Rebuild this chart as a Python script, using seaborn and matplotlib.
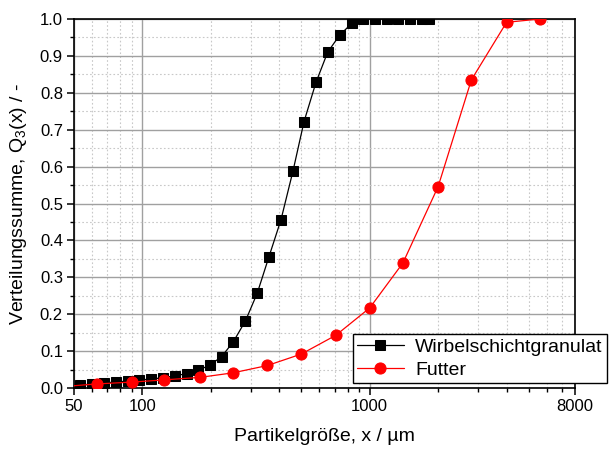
import matplotlib
matplotlib.use("Agg")
import matplotlib.pyplot as plt
import seaborn as sns
import numpy as np
import pandas as pd
from matplotlib.ticker import FixedLocator, FixedFormatter, NullFormatter

# ---- data ----
wsg_x = [53.2, 60.2, 67.8, 76.3, 86.2, 96.9, 109, 123, 139, 156.6, 176, 198, 223,
         251, 284, 320, 360, 407, 460, 514, 580, 653, 737, 833, 937, 1055, 1189,
         1337, 1504, 1693, 1824]
wsg_q3 = [0.008, 0.011, 0.014, 0.016, 0.019, 0.022, 0.024, 0.028, 0.033, 0.039,
          0.048, 0.062, 0.085, 0.125, 0.182, 0.257, 0.355, 0.456, 0.589, 0.722,
          0.828, 0.910, 0.956, 0.988, 1.0, 1.0, 1.0, 1.0, 1.0, 1.0, 1.0]
futter_x = [45, 63, 90, 125, 180, 250, 355, 500, 710, 1000, 1400, 2000, 2800, 4000, 5600]
futter_q3 = [0.004, 0.011, 0.016, 0.022, 0.029, 0.041, 0.061, 0.092, 0.143, 0.217,
             0.339, 0.546, 0.835, 0.991, 1.0]

x_major = [50, 100, 1000, 8000]
x_major_labels = ["50", "100", "1000", "8000"]
x_minor = [60, 70, 80, 90, 200, 300, 400, 500, 600, 700, 800, 900,
           2000, 3000, 4000, 5000, 6000, 7000]
y_major = [round(0.1 * i, 1) for i in range(11)]
y_minor = [round(0.05 + 0.1 * i, 2) for i in range(10)]

sns.set_theme(style="white")
plt.rcParams["font.family"] = ["Liberation Sans", "DejaVu Sans"]
plt.rcParams["mathtext.fontset"] = "custom"
plt.rcParams["mathtext.rm"] = "Liberation Sans"
plt.rcParams["mathtext.it"] = "Liberation Sans:italic"
plt.rcParams["text.color"] = "black"
plt.rcParams["axes.labelcolor"] = "black"
plt.rcParams["xtick.color"] = "black"
plt.rcParams["ytick.color"] = "black"

fig = plt.figure(figsize=(6.09, 4.5), dpi=100)
ax = fig.add_axes([74 / 609, 1 - 388 / 450, (575 - 74) / 609, (388 - 19) / 450])

sns.lineplot(x=wsg_x, y=wsg_q3, ax=ax, color="black", marker="s", markersize=6.8,
             markeredgecolor="black", linewidth=0.9, label="Wirbelschichtgranulat",
             zorder=3)
sns.lineplot(x=futter_x, y=futter_q3, ax=ax, color="#ff0000", marker="o", markersize=8,
             markeredgecolor="#ff0000", linewidth=0.9, label="Futter", zorder=4)

ax.set_xscale("log")
ax.set_xlim(50, 8000)
ax.set_ylim(0, 1.0)

ax.xaxis.set_major_locator(FixedLocator(x_major))
ax.xaxis.set_major_formatter(FixedFormatter(x_major_labels))
ax.xaxis.set_minor_locator(FixedLocator(x_minor))
ax.xaxis.set_minor_formatter(NullFormatter())
ax.yaxis.set_major_locator(FixedLocator(y_major))
ax.yaxis.set_minor_locator(FixedLocator(y_minor))
ax.yaxis.set_major_formatter(FixedFormatter([f"{v:.1f}" for v in y_major]))

ax.grid(which="major", color="#a0a0a0", linewidth=1.0, linestyle="-")
ax.grid(which="minor", color="#c8c8c8", linewidth=0.8, linestyle=(0, (1.5, 2)))
ax.set_axisbelow(True)

ax.tick_params(which="major", direction="out", length=5, width=1.1, color="black",
               labelsize=12, labelcolor="black", bottom=True, left=True, top=False,
               right=False, pad=3)
ax.tick_params(which="minor", direction="out", length=3, width=1.0, color="black",
               bottom=True, left=True, top=False, right=False)
for s in ax.spines.values():
    s.set_visible(True)
    s.set_color("black")
    s.set_linewidth(1.2)

ax.set_xlabel("Partikelgröße, x / µm", fontsize=14, labelpad=10, color="black")
ax.set_ylabel("Verteilungssumme, Q$_3$(x) / -", fontsize=14, labelpad=8, color="black")

leg = ax.legend(loc="lower left", bbox_to_anchor=(353 / 609, 1 - 383 / 450),
                bbox_transform=fig.transFigure, frameon=True, fancybox=False,
                edgecolor="black", framealpha=1, fontsize=14, handlelength=2.4,
                labelspacing=0.3, borderaxespad=0, borderpad=0.2, handletextpad=0.6)
leg.get_frame().set_linewidth(1.0)
for t in leg.get_texts():
    t.set_color("black")

fig.savefig("out.png", dpi=100)
